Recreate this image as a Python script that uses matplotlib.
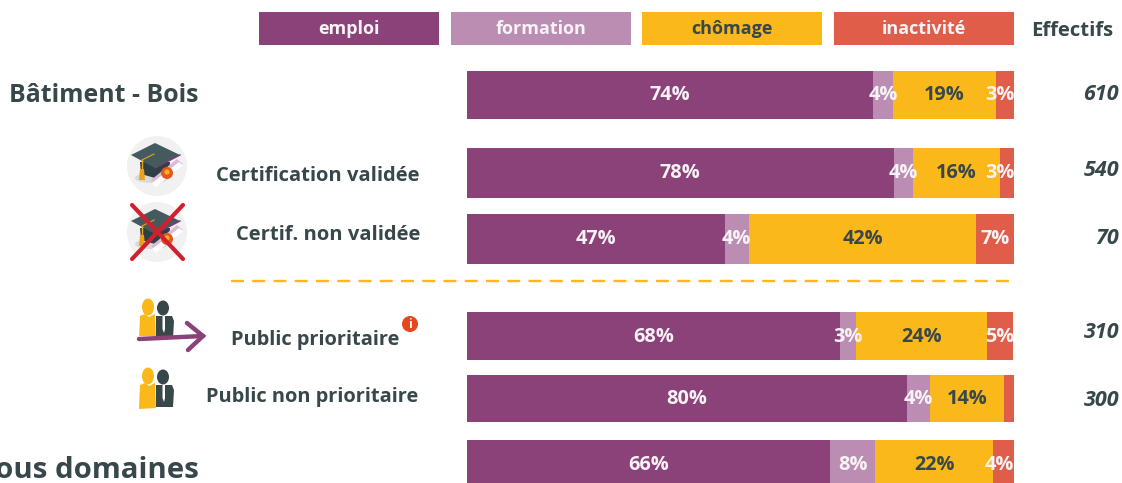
import matplotlib
matplotlib.use('Agg')
import matplotlib.pyplot as plt
from matplotlib.patches import Circle, Ellipse, Polygon, Rectangle

plt.rcParams['font.family'] = ['Open Sans', 'DejaVu Sans']

# data
series = ['emploi', 'formation', 'chômage', 'inactivité']
rows = ['Bâtiment - Bois', 'Certification validée', 'Certif. non validée',
        'Public prioritaire', 'Public non prioritaire', 'Tous domaines']
emploi = [74.2, 78.0, 47.1, 68.2, 80.4, 66.4]
formation = [3.7, 3.5, 4.4, 2.9, 4.2, 8.2]
chomage = [18.8, 16.0, 41.6, 23.9, 13.6, 21.6]
inactivite = [3.3, 2.6, 6.9, 4.9, 1.8, 3.8]
effectifs = ['610', '540', '70', '310', '300', '']

colors = ['#8B4279', '#BB8DB2', '#FAB81B', '#DF5D49']
dark = '#37474A'

# layout in reference pixels
W, H = 1122, 483
row_y = [95, 173, 239, 336, 398.5, 465]
row_h = [48, 50, 50, 48, 47, 50]
label_x = [199, 420, 420, 399, 418, 199]
label_y = [96, 176, 235, 340, 397, 470]
label_size = [17.9, 14.5, 14.5, 14.4, 14.4, 21.2]
count_y = [94, 171, 239, 333, 401, 465]
legend_x = [259, 451, 642, 834]

fig = plt.figure(figsize=(W / 100, H / 100), dpi=100)
ax = fig.add_axes([0, 0, 1, 1])
ax.set_xlim(0, W)
ax.set_ylim(H, 0)
ax.axis('off')

# bars: 0-100 scale between x=467 and x=1014
ax_bars = fig.add_axes([467 / W, 0, 547 / W, 1])
ax_bars.set_xlim(0, 100)
ax_bars.set_ylim(H, 0)
ax_bars.axis('off')
ax_bars.patch.set_alpha(0)

values = [emploi, formation, chomage, inactivite]
for i in range(len(rows)):
    left = 0
    for j in range(4):
        v = values[j][i]
        ax_bars.barh(row_y[i], v, height=row_h[i], left=left, color=colors[j], linewidth=0)
        left += v
    left = 0
    for j in range(4):
        v = values[j][i]
        if v >= 2.5:
            x = min(left + v / 2, 97.4)
            ax_bars.text(x, row_y[i] + 0.5, f'{v:.0f}%', ha='center', va='center',
                         fontsize=14.3, fontweight='bold', zorder=5,
                         color=dark if j == 2 else '#F7F2F6')
        left += v

# legend
for x0, name, c in zip(legend_x, series, colors):
    ax.add_patch(Rectangle((x0, 12), 180, 33, color=c, linewidth=0))
    ax.text(x0 + 90, 29, name, ha='center', va='center', fontsize=13, fontweight='bold',
            color=dark if name == 'chômage' else '#F7F2F6')
ax.text(1072, 31.5, 'Effectifs', ha='center', va='center', fontsize=14.6,
        fontweight='bold', color=dark)

# row labels and counts
for i, name in enumerate(rows):
    ax.text(label_x[i], label_y[i], name, ha='right', va='center',
            fontsize=label_size[i], fontweight='bold', color=dark)
    ax.text(1119, count_y[i], effectifs[i], ha='right', va='center', fontsize=15.5,
            fontweight='bold', fontstyle='italic', color=dark)

# separator
ax.plot([231, 1010], [281, 281], color='#FAB81B', lw=1.7, dashes=(5.5, 3.5))


def draw_cap(cx, cy):
    ax.add_patch(Circle((cx, cy), 30, color='#F1F1F1', lw=0))
    # shadow under the diploma
    ax.add_patch(Ellipse((cx - 5, cy + 12), 34, 10, color='#D9D9D9', lw=0))
    # cap
    ax.add_patch(Polygon([(cx - 17, cy - 4), (cx + 13, cy - 4), (cx + 12, cy + 9), (cx - 2, cy + 12), (cx - 16, cy + 8)],
                         color='#2F4044', lw=0))
    ax.add_patch(Polygon([(cx - 26, cy - 11), (cx - 2, cy - 23), (cx + 23, cy - 11), (cx - 2, cy + 2)],
                         color='#455A5E', lw=0))
    ax.plot([cx - 2, cx + 23], [cy + 2, cy - 11], color='#7A3B78', lw=1)
    # diploma
    ax.add_patch(Polygon([(cx - 6, cy + 14), (cx + 20, cy - 7), (cx + 26, cy - 2), (cx - 1, cy + 19)],
                         color='#DDB9D6', lw=0))
    ax.add_patch(Polygon([(cx - 5, cy + 17), (cx + 22, cy - 4), (cx + 26, cy - 1), (cx - 1, cy + 21)],
                         color='#FFFFFF', lw=0))
    # tassel
    ax.plot([cx - 3, cx - 15], [cy - 12, cy - 6], color='#E9A21A', lw=0.8)
    ax.plot([cx - 15, cx - 15], [cy - 6, cy + 5], color='#E9A21A', lw=1)
    ax.add_patch(Polygon([(cx - 17, cy + 3), (cx - 13, cy + 3), (cx - 12, cy + 14), (cx - 18, cy + 14)],
                         color='#E9A21A', lw=0))
    # seal
    ax.add_patch(Circle((cx + 10, cy + 7), 6, color='#E8561F', lw=0))
    ax.add_patch(Circle((cx + 10, cy + 6), 2.6, color='#F7B21B', lw=0))


def draw_people(x, y):
    # x, y = left edge and top of the heads
    ax.add_patch(Ellipse((x + 9, y + 8), 12, 17, color='#FAB81B', lw=0))
    ax.add_patch(Polygon([(x + 1, y + 17), (x + 6, y + 15), (x + 10, y + 18), (x + 16, y + 15), (x + 17, y + 40), (x, y + 41)],
                         color='#FAB81B', lw=0))
    ax.add_patch(Ellipse((x + 24, y + 9), 12, 15, color=dark, lw=0))
    ax.add_patch(Polygon([(x + 17, y + 17), (x + 33, y + 17), (x + 35, y + 22), (x + 34, y + 39), (x + 17, y + 39)],
                         color=dark, lw=0))
    ax.add_patch(Polygon([(x + 23.5, y + 17), (x + 26, y + 17), (x + 26, y + 30), (x + 25, y + 34), (x + 23.5, y + 30)],
                         color='#FFFFFF', lw=0))


draw_cap(157, 166)
draw_cap(157, 232)
ax.plot([132, 183], [205, 259], color='#D0202E', lw=3, solid_capstyle='round')
ax.plot([183, 132], [205, 259], color='#D0202E', lw=3, solid_capstyle='round')

draw_people(139, 299)
ax.add_patch(Rectangle((136, 336), 40, 8, color='#FFFFFF', lw=0, zorder=1.5))
ax.plot([139, 203], [339, 336], color='#8B4279', lw=3.2, solid_capstyle='round', zorder=3)
ax.plot([187, 203, 188], [323, 336, 350], color='#8B4279', lw=3.2,
        solid_capstyle='round', solid_joinstyle='miter', zorder=3)
draw_people(139, 368)

# info badge
ax.add_patch(Circle((410, 324), 8, color='#E8461F', lw=0))
ax.text(410, 324, 'i', ha='center', va='center', fontsize=9, fontweight='bold', color='#FFFFFF')

fig.savefig('out.png', dpi=100)
